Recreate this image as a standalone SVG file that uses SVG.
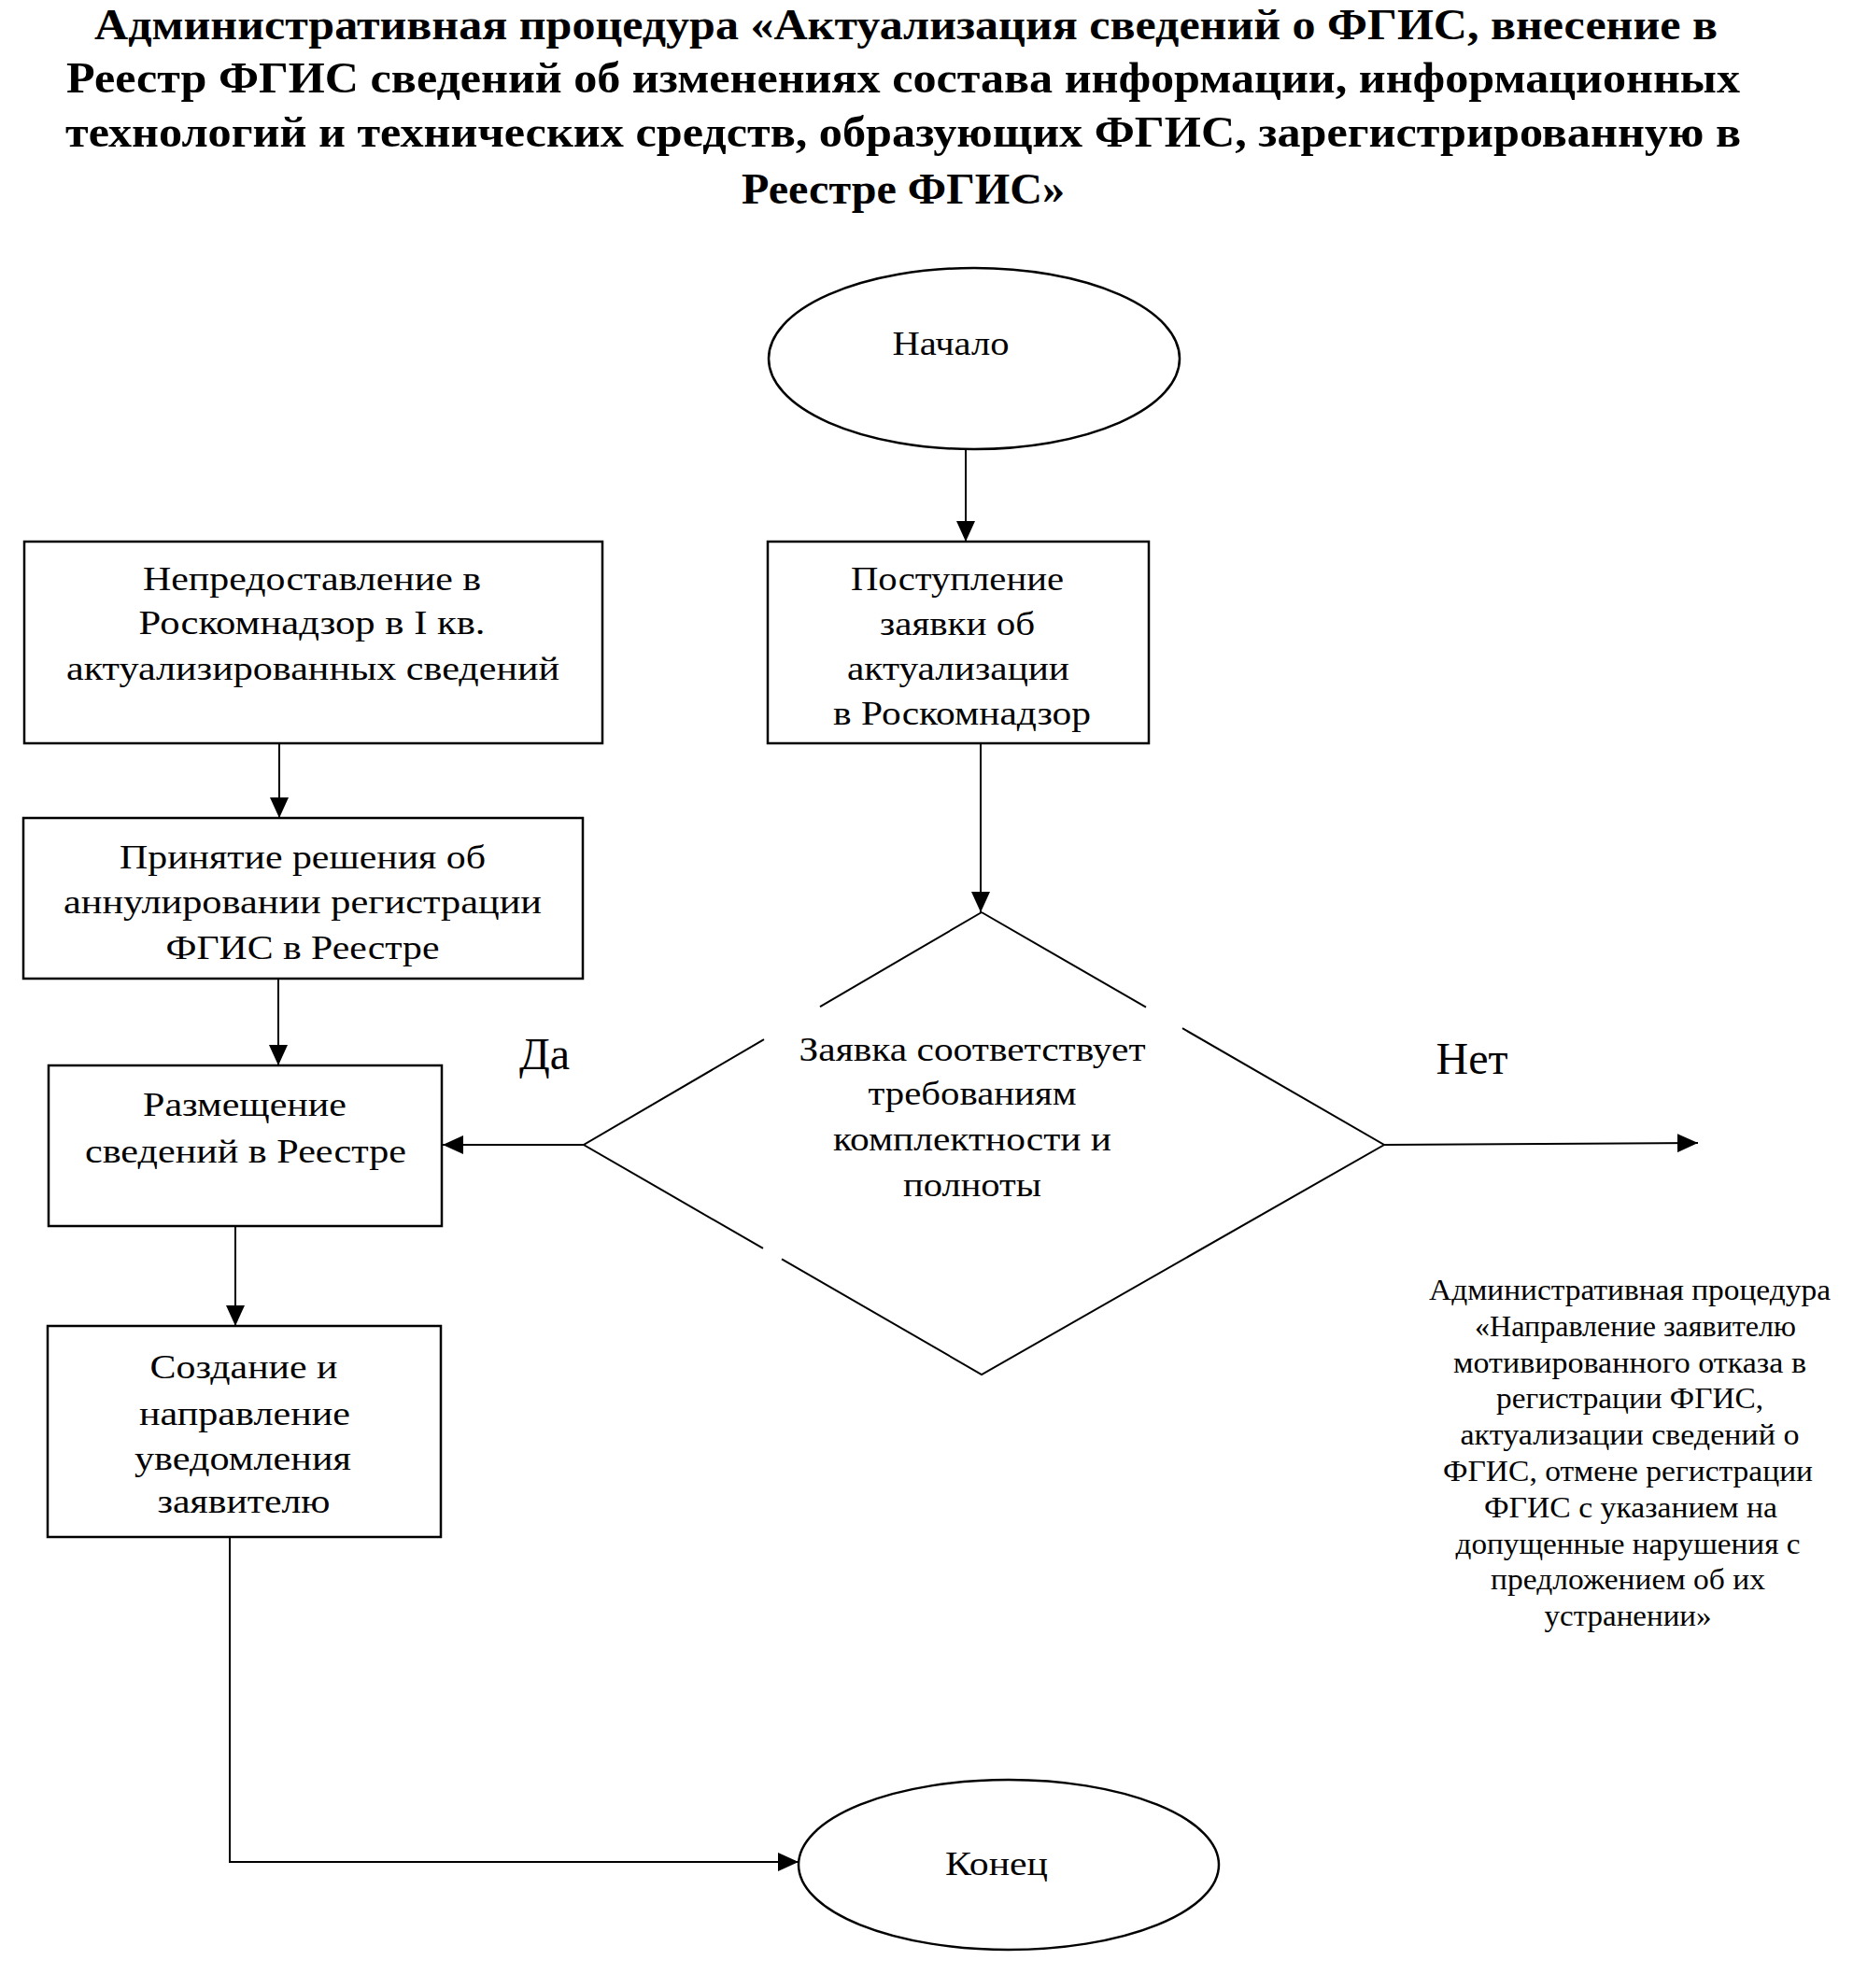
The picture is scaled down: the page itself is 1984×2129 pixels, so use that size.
<svg xmlns="http://www.w3.org/2000/svg" width="1984" height="2129" viewBox="0 0 1984 2129">
<defs>
<style>
text{font-family:"Liberation Serif","Times New Roman",serif;fill:#000;text-anchor:middle}
.t{font-size:46px;font-weight:bold}
.b{font-size:36px}
.r{font-size:31px}
.lbl{font-size:48px}
.shape{fill:none;stroke:#000;stroke-width:2.5}
.edge{fill:none;stroke:#000;stroke-width:2}
</style>
<marker id="ah" viewBox="0 0 22 20" refX="22" refY="10" markerWidth="22" markerHeight="20" markerUnits="userSpaceOnUse" orient="auto">
<path d="M0,0 L22,10 L0,20 Z" fill="#000"/>
</marker>
</defs>
<rect width="1984" height="2129" fill="#fff"/>

<g id="title">
<text class="t" x="970" y="42" textLength="1738" lengthAdjust="spacingAndGlyphs">Административная процедура «Актуализация сведений о ФГИС, внесение в</text>
<text class="t" x="967" y="99" textLength="1792" lengthAdjust="spacingAndGlyphs">Реестр ФГИС сведений об изменениях состава информации, информационных</text>
<text class="t" x="967" y="157" textLength="1794" lengthAdjust="spacingAndGlyphs">технологий и технических средств, образующих ФГИС, зарегистрированную в</text>
<text class="t" x="967" y="218" textLength="346" lengthAdjust="spacingAndGlyphs">Реестре ФГИС»</text>
</g>

<g id="start">
<ellipse class="shape" cx="1043" cy="384" rx="220" ry="97"/>
<text class="b" x="1018" y="380" textLength="125" lengthAdjust="spacingAndGlyphs">Начало</text>
</g>

<g id="receive">
<rect class="shape" x="822" y="580" width="408" height="216"/>
<text class="b" x="1025" y="632" textLength="228" lengthAdjust="spacingAndGlyphs">Поступление</text>
<text class="b" x="1025" y="680" textLength="166" lengthAdjust="spacingAndGlyphs">заявки об</text>
<text class="b" x="1026" y="728" textLength="238" lengthAdjust="spacingAndGlyphs">актуализации</text>
<text class="b" x="1030" y="776" textLength="276" lengthAdjust="spacingAndGlyphs">в Роскомнадзор</text>
</g>

<g id="nosubmit">
<rect class="shape" x="26" y="580" width="619" height="216"/>
<text class="b" x="334" y="632" textLength="362" lengthAdjust="spacingAndGlyphs">Непредоставление в</text>
<text class="b" x="334" y="679" textLength="371" lengthAdjust="spacingAndGlyphs">Роскомнадзор в I кв.</text>
<text class="b" x="335" y="728" textLength="528" lengthAdjust="spacingAndGlyphs">актуализированных сведений</text>
</g>

<g id="annul">
<rect class="shape" x="25" y="876" width="599" height="172"/>
<text class="b" x="324" y="930" textLength="392" lengthAdjust="spacingAndGlyphs">Принятие решения об</text>
<text class="b" x="324" y="978" textLength="512" lengthAdjust="spacingAndGlyphs">аннулировании регистрации</text>
<text class="b" x="324" y="1027" textLength="293" lengthAdjust="spacingAndGlyphs">ФГИС в Реестре</text>
</g>

<g id="place">
<rect class="shape" x="52" y="1141" width="421" height="172"/>
<text class="b" x="262" y="1195" textLength="218" lengthAdjust="spacingAndGlyphs">Размещение</text>
<text class="b" x="263" y="1245" textLength="344" lengthAdjust="spacingAndGlyphs">сведений в Реестре</text>
</g>

<g id="notify">
<rect class="shape" x="51" y="1420" width="421" height="226"/>
<text class="b" x="261" y="1476" textLength="201" lengthAdjust="spacingAndGlyphs">Создание и</text>
<text class="b" x="262" y="1526" textLength="226" lengthAdjust="spacingAndGlyphs">направление</text>
<text class="b" x="260" y="1574" textLength="232" lengthAdjust="spacingAndGlyphs">уведомления</text>
<text class="b" x="261" y="1620" textLength="185" lengthAdjust="spacingAndGlyphs">заявителю</text>
</g>

<g id="decision">
<path class="edge" d="M1051,977 L878,1078.1 M818,1113.2 L625,1226 L817,1336.9 M837,1348.4 L1051,1472 L1482,1226 L1266,1101.2 M1227,1078.7 L1051,977"/>
<text class="b" x="1041" y="1136" textLength="371" lengthAdjust="spacingAndGlyphs">Заявка соответствует</text>
<text class="b" x="1041" y="1183" textLength="223" lengthAdjust="spacingAndGlyphs">требованиям</text>
<text class="b" x="1041" y="1232" textLength="298" lengthAdjust="spacingAndGlyphs">комплектности и</text>
<text class="b" x="1041" y="1281" textLength="148" lengthAdjust="spacingAndGlyphs">полноты</text>
</g>

<g id="refusal">
<text class="r" x="1745" y="1392" textLength="430" lengthAdjust="spacingAndGlyphs">Административная процедура</text>
<text class="r" x="1751" y="1431" textLength="344" lengthAdjust="spacingAndGlyphs">«Направление заявителю</text>
<text class="r" x="1745" y="1470" textLength="378" lengthAdjust="spacingAndGlyphs">мотивированного отказа в</text>
<text class="r" x="1745" y="1508" textLength="286" lengthAdjust="spacingAndGlyphs">регистрации ФГИС,</text>
<text class="r" x="1745" y="1547" textLength="363" lengthAdjust="spacingAndGlyphs">актуализации сведений о</text>
<text class="r" x="1743" y="1586" textLength="396" lengthAdjust="spacingAndGlyphs">ФГИС, отмене регистрации</text>
<text class="r" x="1746" y="1625" textLength="314" lengthAdjust="spacingAndGlyphs">ФГИС с указанием на</text>
<text class="r" x="1743" y="1664" textLength="369" lengthAdjust="spacingAndGlyphs">допущенные нарушения с</text>
<text class="r" x="1743" y="1702" textLength="294" lengthAdjust="spacingAndGlyphs">предложением об их</text>
<text class="r" x="1743" y="1741" textLength="179" lengthAdjust="spacingAndGlyphs">устранении»</text>
</g>

<g id="end">
<ellipse class="shape" cx="1080" cy="1997" rx="225" ry="91"/>
<text class="b" x="1067" y="2008" textLength="110" lengthAdjust="spacingAndGlyphs">Конец</text>
</g>

<g id="connectors">
<line class="edge" x1="1034" y1="481" x2="1034" y2="580" marker-end="url(#ah)"/>
<line class="edge" x1="1050" y1="796" x2="1050" y2="977" marker-end="url(#ah)"/>
<line class="edge" x1="299" y1="796" x2="299" y2="876" marker-end="url(#ah)"/>
<line class="edge" x1="298" y1="1048" x2="298" y2="1141" marker-end="url(#ah)"/>
<line class="edge" x1="625" y1="1226" x2="474" y2="1226" marker-end="url(#ah)"/>
<line class="edge" x1="1482" y1="1226" x2="1818" y2="1224" marker-end="url(#ah)"/>
<line class="edge" x1="252" y1="1313" x2="252" y2="1420" marker-end="url(#ah)"/>
<polyline class="edge" points="246,1646 246,1994 855,1994" marker-end="url(#ah)"/>
<text class="lbl" x="583" y="1145">Да</text>
<text class="lbl" x="1576" y="1150">Нет</text>
</g>
</svg>
